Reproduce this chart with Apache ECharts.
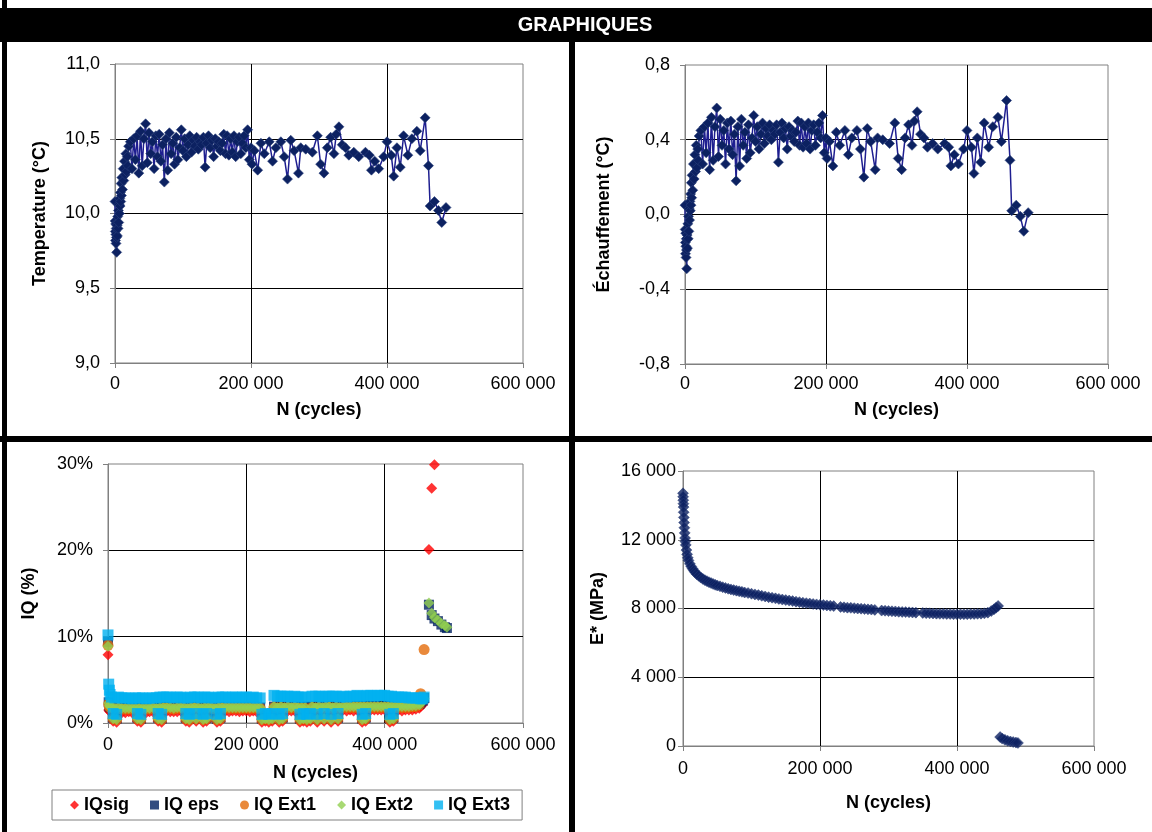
<!DOCTYPE html>
<html><head><meta charset="utf-8">
<script src="https://cdn.jsdelivr.net/npm/echarts@6/dist/echarts.min.js"></script>
<style>html,body{margin:0;padding:0;background:#fff}#c{width:1152px;height:832px}</style>
</head><body><div id="c"></div>
<script>
// ---------- DATA ----------
const tempCycles = [0,250,500,750,1000,1250,1500,1750,2000,2500,3000,3500,4000,4500,5000,5500,6000,6500,7000,7500,8000,8500,9000,9500,10000,11000,12000,13000,14000,15000,16000,17000,18000,19000,20000,
22500,25000,27500,30000,32500,35000,37500,40000,42500,45000,47500,50000,52500,55000,57500,60000,62500,65000,67500,70000,72500,75000,77500,80000,82500,85000,87500,90000,92500,95000,97500,100000,102500,105000,107500,110000,112500,115000,117500,120000,122500,125000,127500,130000,132500,135000,137500,140000,142500,145000,147500,150000,152500,155000,157500,160000,162500,165000,167500,170000,172500,175000,177500,180000,182500,185000,187500,190000,192500,195000,197500,200000,
201500,204900,209800,214600,219500,226800,231700,236600,243900,248800,253700,258500,263400,269800,273200,280500,290200,297600,302400,307300,312200,317100,322000,325400,329300,334100,339000,343900,351200,358500,368300,374100,377100,382000,387800,395100,400000,406300,409800,414600,419500,424400,430700,436600,443900,448800,456100,461000,463400,469800,475600,480500,486800];

const tempValues = [10.08,9.95,9.88,9.82,9.93,9.86,9.80,9.90,9.84,9.74,9.92,9.85,9.98,9.90,10.02,9.94,10.06,10.00,10.10,10.05,10.14,10.08,10.20,10.12,10.24,10.16,10.30,10.22,10.35,10.26,10.40,10.28,10.38,10.32,10.45,
10.48,10.30,10.50,10.36,10.52,10.27,10.55,10.32,10.50,10.60,10.34,10.54,10.40,10.48,10.30,10.52,10.38,10.53,10.35,10.46,10.21,10.50,10.29,10.54,10.40,10.47,10.33,10.51,10.36,10.44,10.56,10.42,10.50,10.38,10.46,10.52,10.41,10.49,10.45,10.51,10.43,10.48,10.46,10.51,10.31,10.47,10.52,10.44,10.49,10.38,10.50,10.45,10.48,10.42,10.47,10.53,10.40,10.52,10.39,10.50,10.41,10.52,10.38,10.48,10.51,10.40,10.47,10.52,10.44,10.56,10.36,10.44,
10.33,10.42,10.29,10.47,10.40,10.48,10.35,10.44,10.48,10.38,10.23,10.49,10.42,10.27,10.44,10.43,10.41,10.52,10.33,10.27,10.44,10.51,10.40,10.53,10.58,10.46,10.44,10.39,10.41,10.38,10.41,10.39,10.29,10.35,10.30,10.38,10.48,10.39,10.25,10.44,10.31,10.52,10.39,10.50,10.55,10.42,10.64,10.32,10.05,10.08,10.02,9.94,10.04];

const heatValues = [0.05,-0.08,-0.15,-0.21,-0.10,-0.17,-0.23,-0.13,-0.19,-0.29,-0.11,-0.18,-0.05,-0.13,-0.01,-0.09,0.03,-0.03,0.07,0.02,0.11,0.05,0.17,0.09,0.21,0.13,0.27,0.19,0.32,0.23,0.37,0.25,0.35,0.29,0.42,
0.45,0.27,0.47,0.33,0.49,0.24,0.52,0.29,0.47,0.57,0.31,0.51,0.37,0.45,0.27,0.49,0.35,0.50,0.32,0.43,0.18,0.47,0.26,0.51,0.37,0.44,0.30,0.48,0.33,0.41,0.53,0.39,0.47,0.35,0.43,0.49,0.38,0.46,0.42,0.48,0.40,0.45,0.43,0.48,0.28,0.44,0.49,0.41,0.46,0.35,0.47,0.42,0.45,0.39,0.44,0.50,0.37,0.49,0.36,0.47,0.38,0.49,0.35,0.45,0.48,0.37,0.44,0.49,0.41,0.53,0.33,0.41,
0.30,0.39,0.26,0.44,0.37,0.45,0.32,0.41,0.45,0.35,0.20,0.46,0.39,0.24,0.41,0.40,0.38,0.49,0.30,0.24,0.41,0.48,0.37,0.50,0.55,0.43,0.41,0.36,0.38,0.35,0.38,0.36,0.26,0.32,0.27,0.35,0.45,0.36,0.22,0.41,0.28,0.49,0.36,0.47,0.52,0.39,0.61,0.29,0.02,0.05,-0.01,-0.09,0.01];

const iqCycles = [0,1000,2000,3000,5000,7500,10000,12500,15000,20000,
25000,30000,35000,40000,42500,45000,47500,50000,55000,60000,
65000,70000,72500,75000,77500,80000,85000,90000,95000,100000,
105000,110000,112500,115000,117500,120000,125000,127500,130000,135000,
137500,140000,142500,145000,150000,155000,157500,160000,162500,165000,
170000,175000,180000,185000,190000,195000,200000,205000,210000,215000,
220000,222500,227500,232500,237500,240000,245000,247500,250000,252500,
255000,260000,265000,270000,275000,277500,280000,282500,285000,287500,
292500,295000,300000,302500,305000,310000,312500,315000,320000,322500,
325000,330000,332500,335000,340000,345000,350000,355000,360000,365000,
367500,370000,372500,375000,380000,385000,390000,395000,400000,405000,
407500,410000,412500,415000,420000,425000,430000,435000,440000,445000,
450000,452000,455000,457000,464000,468000,472000,477000,482000,487000,
490000];

const iqSig = [7.9,1.5,1.4,1.3,1.3,0.2,1.2,0.1,1.3,1.2,
1.2,1.3,1.2,1.2,0.2,1.3,0.1,1.2,1.2,1.3,
1.3,1.2,0.2,1.3,0.1,1.3,1.4,1.3,1.3,1.3,
1.4,1.3,0.2,1.3,0.1,1.3,1.4,0.2,1.3,1.3,
0.1,1.3,0.2,1.4,1.3,1.3,0.1,1.3,0.2,1.4,
1.4,1.3,1.4,1.4,1.3,1.4,1.4,1.3,1.4,1.3,
1.3,0.1,0.2,0.1,0.2,1.4,1.4,0.1,1.4,0.2,
1.4,1.4,1.4,1.4,1.4,0.1,1.4,0.2,1.4,0.1,
0.2,1.4,1.4,0.1,1.5,1.4,0.2,1.4,1.5,0.1,
1.4,1.4,0.2,1.4,1.5,1.4,1.5,1.4,1.5,1.5,
0.1,1.5,0.2,1.5,1.5,1.5,1.5,1.5,1.5,1.5,
0.1,1.5,0.2,1.5,1.5,1.4,1.5,1.5,1.5,1.6,
1.7,1.9,2.1,2.4,20.1,27.2,29.9,null,null,null,
null];

const iqEps = [9.4,2.4,2.0,1.9,1.8,0.6,1.8,0.5,1.8,1.7,
1.7,1.8,1.7,1.7,0.6,1.8,0.5,1.7,1.7,1.7,
1.8,1.7,0.6,1.8,0.5,1.8,1.9,1.8,1.8,1.8,
1.9,1.8,0.6,1.8,0.5,1.8,1.9,0.6,1.8,1.8,
0.5,1.8,0.6,1.9,1.8,1.8,0.5,1.8,0.6,1.8,
1.9,1.8,1.9,1.9,1.8,1.9,1.9,1.8,1.9,1.8,
1.8,0.5,0.6,0.5,0.6,1.9,1.9,0.5,1.9,0.6,
1.9,1.9,1.9,1.9,1.9,0.5,1.9,0.6,1.9,0.5,
0.6,1.9,1.9,0.5,2.0,1.9,0.6,1.9,2.0,0.5,
1.9,1.9,0.6,1.9,2.0,1.9,2.0,1.9,2.0,2.0,
0.5,2.0,0.6,2.0,2.0,2.0,2.0,2.0,2.0,2.0,
0.5,2.0,0.6,2.0,2.0,1.9,2.0,2.0,2.0,2.1,
2.2,2.4,2.6,2.9,13.7,12.5,12.1,11.8,11.4,11.1,
11.0];

const iqExt1 = [9.0,2.2,1.9,1.8,1.7,0.5,1.6,0.4,1.7,1.6,
1.6,1.6,1.6,1.6,0.5,1.6,0.4,1.6,1.6,1.6,
1.7,1.6,0.5,1.6,0.4,1.7,1.7,1.7,1.6,1.7,
1.7,1.7,0.5,1.6,0.4,1.7,1.7,0.5,1.7,1.6,
0.4,1.7,0.5,1.7,1.7,1.6,0.4,1.7,0.5,1.7,
1.7,1.7,1.7,1.7,1.7,1.7,1.7,1.7,1.7,1.7,
1.7,0.4,0.5,0.4,0.5,1.8,1.7,0.4,1.8,0.5,
1.7,1.8,1.7,1.8,1.7,0.4,1.7,0.5,1.7,0.4,
0.5,1.8,1.7,0.4,1.8,1.7,0.5,1.8,1.8,0.4,
1.7,1.8,0.5,1.7,1.8,1.8,1.8,1.8,1.8,1.8,
0.4,1.8,0.5,1.8,1.8,1.8,1.8,1.8,1.8,1.8,
0.4,1.8,0.5,1.8,1.8,1.8,1.8,1.8,1.9,1.9,
2.1,3.4,2.9,8.5,null,null,null,null,null,null,
null];

const iqExt2 = [8.9,2.3,2.0,1.9,1.8,0.5,1.7,0.4,1.8,1.7,
1.7,1.7,1.7,1.7,0.5,1.7,0.4,1.7,1.7,1.7,
1.8,1.7,0.5,1.8,0.4,1.8,1.8,1.8,1.7,1.8,
1.8,1.8,0.5,1.7,0.4,1.8,1.8,0.5,1.8,1.7,
0.4,1.8,0.5,1.8,1.8,1.7,0.4,1.8,0.5,1.8,
1.8,1.8,1.8,1.8,1.8,1.8,1.8,1.8,1.8,1.8,
1.8,0.4,0.5,0.4,0.5,1.9,1.8,0.4,1.9,0.5,
1.8,1.9,1.8,1.9,1.8,0.4,1.8,0.5,1.8,0.4,
0.5,1.9,1.8,0.4,1.9,1.8,0.5,1.9,1.9,0.4,
1.8,1.9,0.5,1.8,1.9,1.9,1.9,1.9,1.9,1.9,
0.4,1.9,0.5,1.9,1.9,1.9,1.9,1.9,1.9,1.9,
0.4,1.9,0.5,1.9,1.9,1.9,1.9,1.9,2.0,2.0,
2.1,2.3,2.5,2.8,13.9,12.7,12.2,11.9,11.5,11.3,
11.1];

const iqExt3 = [10.2,4.5,3.8,3.3,3.0,1.1,2.9,1.0,3.0,2.9,
2.9,2.9,2.8,2.9,1.1,2.9,1.0,2.9,2.8,2.9,
2.9,2.9,1.1,3.0,1.0,3.0,3.0,3.0,2.9,3.0,
3.0,2.9,1.1,2.9,1.0,3.0,3.0,1.1,3.0,2.9,
1.0,3.0,1.1,3.0,2.9,2.9,1.0,3.0,1.1,3.0,
3.0,2.9,3.0,3.0,2.9,3.0,3.0,2.9,3.0,2.9,
2.9,1.0,1.1,1.0,1.1,3.2,3.1,1.0,3.1,1.1,
3.1,3.1,3.0,3.1,3.0,1.0,3.0,1.1,3.0,1.0,
1.1,3.1,3.1,1.0,3.1,3.0,1.1,3.1,3.1,1.0,
3.1,3.1,1.1,3.0,3.1,3.0,3.1,3.1,3.2,3.1,
1.0,3.1,1.1,3.2,3.2,3.1,3.2,3.2,3.2,3.1,
1.0,3.1,1.1,3.0,3.0,3.0,3.0,2.9,2.9,2.9,
2.9,2.8,2.8,3.0,null,null,null,null,null,null,
null];

const modCycles = [0,200,400,600,800,1000,1300,1600,2000,2500,
3000,3500,4000,5000,6000,7000,8000,10000,12000,14000,
16000,18000,20000,23000,26000,29000,32000,35000,38000,41000,
44000,47000,50000,54000,58000,62000,66000,70000,74000,78000,
82000,86000,90000,95000,100000,105000,110000,115000,120000,125000,
130000,135000,140000,145000,150000,155000,160000,165000,170000,175000,
180000,185000,190000,195000,200000,205000,210000,215000,220000,230000,
235000,240000,245000,250000,255000,260000,265000,270000,275000,280000,
290000,295000,300000,305000,310000,315000,320000,325000,330000,335000,
340000,350000,355000,360000,365000,370000,375000,380000,385000,390000,
395000,400000,405000,410000,415000,420000,425000,430000,435000,440000,
445000,450000,454000,457000,460000,463000,466000,470000,474000,478000,
482000,486000,489000];

const modValues = [14700,14500,14300,14100,13900,13600,13300,13000,12700,12400,
12100,11900,11700,11400,11150,10950,10800,10600,10450,10320,
10200,10100,10000,9900,9800,9720,9650,9590,9530,9480,
9430,9380,9340,9290,9240,9200,9150,9110,9070,9040,
9000,8970,8930,8900,8860,8820,8780,8740,8700,8660,
8630,8590,8560,8520,8490,8460,8430,8400,8370,8340,
8310,8290,8260,8240,8220,8200,8180,8160,8140,8090,
8070,8050,8040,8020,8000,7990,7970,7950,7940,7920,
7880,7870,7850,7840,7830,7810,7800,7790,7780,7770,
7760,7740,7730,7720,7710,7700,7690,7690,7680,7680,
7670,7670,7670,7670,7670,7680,7680,7690,7700,7720,
7760,7850,7950,8050,8150,520,430,360,300,260,
230,200,180];

const iqNames = ['IQsig','IQ eps','IQ Ext1','IQ Ext2','IQ Ext3'];
const titleText = 'GRAPHIQUES';
const xName = 'N (cycles)';
const yNames = ['Temperature (°C)','Échauffement (°C)','IQ (%)','E* (MPa)'];

// ---------- HELPERS ----------
const FONT = '"Liberation Sans", Arial, sans-serif';
const zip = (xs, ys) => xs.map((x, i) => [x, ys[i]]).filter(p => p[1] !== null && p[1] !== undefined);
const thou = v => String(Math.round(v)).replace(/\B(?=(\d{3})+(?!\d))/g, ' ');
const dec1 = v => { if (Math.abs(v) < 1e-9) v = 0; return v.toFixed(1).replace('.', ','); };
const pct = v => Math.round(v) + '%';

function xAxis(gi, margin, gap) {
  return {
    type: 'value', gridIndex: gi, min: 0, max: 600000, interval: 200000,
    name: xName, nameLocation: 'middle', nameGap: gap,
    nameTextStyle: { fontFamily: FONT, fontWeight: 'bold', fontSize: 18, color: '#000' },
    axisLine: { show: true, onZero: false, lineStyle: { color: '#808080', width: 1 } },
    axisTick: { show: true, inside: false, length: 5, lineStyle: { color: '#808080' } },
    axisLabel: { fontFamily: FONT, fontSize: 18, color: '#000', margin: margin, formatter: thou },
    splitLine: { show: true, showMinLine: false, showMaxLine: false, lineStyle: { color: '#000', width: 1 } }
  };
}
function yAxis(gi, min, max, interval, fmt, name, gap, margin) {
  return {
    type: 'value', gridIndex: gi, min: min, max: max, interval: interval,
    name: name, nameLocation: 'middle', nameGap: gap,
    nameTextStyle: { fontFamily: FONT, fontWeight: 'bold', fontSize: 18, color: '#000' },
    axisLine: { show: true, onZero: false, lineStyle: { color: '#808080', width: 1 } },
    axisTick: { show: true, inside: false, length: 5, lineStyle: { color: '#808080' } },
    axisLabel: { fontFamily: FONT, fontSize: 18, color: '#000', margin: margin, formatter: fmt },
    splitLine: { show: true, showMinLine: false, showMaxLine: false, lineStyle: { color: '#000', width: 1 } }
  };
}
const gridBase = { show: true, borderColor: '#808080', borderWidth: 1, backgroundColor: '#fff', containLabel: false };

const NAVY = '#0C2161';
const LINE = '#1E1E90';

const option = {
  animation: false,
  backgroundColor: '#fff',
  textStyle: { fontFamily: FONT },
  grid: [
    Object.assign({ left: 115, top: 64, width: 408, height: 299 }, gridBase),
    Object.assign({ left: 685, top: 65, width: 423, height: 299 }, gridBase),
    Object.assign({ left: 108, top: 464, width: 415, height: 259 }, gridBase),
    Object.assign({ left: 683, top: 471, width: 411, height: 275 }, gridBase)
  ],
  xAxis: [ xAxis(0, 12, 38), xAxis(1, 11, 37), xAxis(2, 13, 41), xAxis(3, 14, 48) ],
  yAxis: [
    yAxis(0, 9, 11, 0.5, dec1, yNames[0], 66, 15),
    yAxis(1, -0.8, 0.8, 0.4, dec1, yNames[1], 72, 15),
    yAxis(2, 0, 30, 10, pct, yNames[2], 70, 15),
    yAxis(3, 0, 16000, 4000, thou, yNames[3], 76, 7)
  ],
  legend: {
    show: true, left: 52, top: 790, orient: 'horizontal',
    data: iqNames,
    itemWidth: 9, itemHeight: 9, itemGap: 21,
    padding: [6, 12, 6, 18],
    borderColor: '#808080', borderWidth: 1, backgroundColor: '#fff',
    textStyle: { fontFamily: FONT, fontWeight: 'bold', fontSize: 18, color: '#000' }
  },
  graphic: [
    { type: 'rect', z: 100, shape: { x: 0, y: 8, width: 1152, height: 34 }, style: { fill: '#000' } },
    { type: 'rect', z: 100, shape: { x: 2, y: 0, width: 5, height: 832 }, style: { fill: '#000' } },
    { type: 'rect', z: 100, shape: { x: 569, y: 42, width: 6, height: 790 }, style: { fill: '#000' } },
    { type: 'rect', z: 100, shape: { x: 0, y: 436, width: 1152, height: 6 }, style: { fill: '#000' } },
    { type: 'text', z: 101, x: 585, y: 25,
      style: { text: titleText, fill: '#fff', font: 'bold 20px ' + FONT, align: 'center', verticalAlign: 'middle', textAlign: 'center', textVerticalAlign: 'middle' } }
  ],
  series: [
    { type: 'line', xAxisIndex: 0, yAxisIndex: 0, data: zip(tempCycles, tempValues),
      symbol: 'diamond', symbolSize: 10, showAllSymbol: true,
      lineStyle: { color: LINE, width: 1.5 }, itemStyle: { color: NAVY, borderColor: '#2A3F7A', borderWidth: 0.6 } },
    { type: 'line', xAxisIndex: 1, yAxisIndex: 1, data: zip(tempCycles, heatValues),
      symbol: 'diamond', symbolSize: 10, showAllSymbol: true,
      lineStyle: { color: LINE, width: 1.5 }, itemStyle: { color: NAVY, borderColor: '#2A3F7A', borderWidth: 0.6 } },
    { name: iqNames[0], type: 'scatter', xAxisIndex: 2, yAxisIndex: 2, data: zip(iqCycles, iqSig),
      symbol: 'diamond', symbolSize: 11, itemStyle: { color: '#FF0000' } },
    { name: iqNames[1], type: 'scatter', xAxisIndex: 2, yAxisIndex: 2, data: zip(iqCycles, iqEps),
      symbol: 'rect', symbolSize: 10, itemStyle: { color: '#002060' } },
    { name: iqNames[2], type: 'scatter', xAxisIndex: 2, yAxisIndex: 2, data: zip(iqCycles, iqExt1),
      symbol: 'circle', symbolSize: 11, itemStyle: { color: '#E46C0A' } },
    { name: iqNames[3], type: 'scatter', xAxisIndex: 2, yAxisIndex: 2, data: zip(iqCycles, iqExt2),
      symbol: 'diamond', symbolSize: 11, itemStyle: { color: '#92D050' } },
    { name: iqNames[4], type: 'scatter', xAxisIndex: 2, yAxisIndex: 2, data: zip(iqCycles, iqExt3),
      symbol: 'rect', symbolSize: 11, itemStyle: { color: '#00B0F0' } },
    { type: 'scatter', xAxisIndex: 3, yAxisIndex: 3, data: zip(modCycles, modValues),
      symbol: 'diamond', symbolSize: 11, itemStyle: { color: NAVY, borderColor: '#2A3F7A', borderWidth: 0.6 } }
  ]
};

const chart = echarts.init(document.getElementById('c'), null, { renderer: 'canvas' });
chart.setOption(option);
</script>
</body></html>
